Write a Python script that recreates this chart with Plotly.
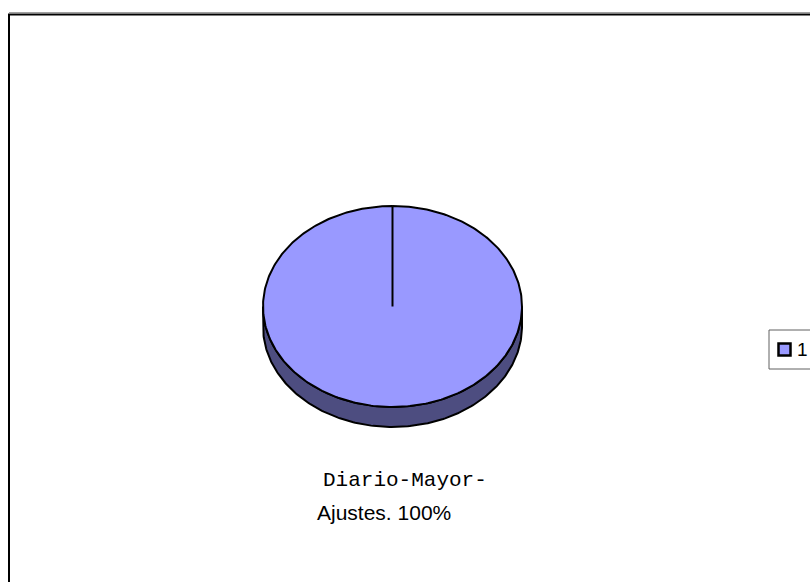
import numpy as np
import plotly.graph_objects as go

# Chart data
categories = ["1"]
values = [100]
series_name = ["Diario-Mayor-", "Ajustes."]

# Pie geometry (in pixel-like axis units, y grows downward)
CX, CY = 392.5, 306.5
RX, RY = 129.5, 100.5
DEPTH = 20
TOP_COLOR = "#9999FF"
SIDE_COLOR = "#4D4D80"

total = float(sum(values))
fractions = [v / total for v in values]


def ellipse_xy(theta, dy=0.0):
    # theta measured clockwise from 12 o'clock
    return CX + RX * np.sin(theta), CY - RY * np.cos(theta) + dy


fig = go.Figure()

# Visible side wall: the front half of the rim (from 3 o'clock to 9 o'clock)
t = np.linspace(np.pi / 2, 3 * np.pi / 2, 200)
x_up, y_up = ellipse_xy(t)
x_dn, y_dn = ellipse_xy(t[::-1], DEPTH)
fig.add_trace(go.Scatter(
    x=np.concatenate([x_up, x_dn, x_up[:1]]),
    y=np.concatenate([y_up, y_dn, y_up[:1]]),
    mode="lines", fill="toself", fillcolor=SIDE_COLOR,
    line=dict(color="black", width=2), showlegend=False, hoverinfo="skip"))

# Top face of each slice
start = 0.0
for cat, frac in zip(categories, fractions):
    a0, a1 = 2 * np.pi * start, 2 * np.pi * (start + frac)
    tt = np.linspace(a0, a1, 400)
    ex, ey = ellipse_xy(tt)
    if frac >= 0.999999:
        px, py = ex, ey
    else:
        px = np.concatenate([[CX], ex, [CX]])
        py = np.concatenate([[CY], ey, [CY]])
    fig.add_trace(go.Scatter(
        x=px, y=py, mode="lines", fill="toself", fillcolor=TOP_COLOR,
        line=dict(color="black", width=2), showlegend=False,
        hoverinfo="skip", name=cat))
    start += frac

# Slice boundary radii
start = 0.0
for frac in fractions:
    bx, by = ellipse_xy(2 * np.pi * start)
    fig.add_trace(go.Scatter(
        x=[CX, bx], y=[CY, by], mode="lines",
        line=dict(color="black", width=2), showlegend=False,
        hoverinfo="skip"))
    start += frac

# Data label: series name and percentage
pct = f"{round(fractions[0] * 100):d}%"
fig.add_annotation(x=405, y=480, xref="x", yref="y", showarrow=False,
                   text=series_name[0],
                   font=dict(family="Liberation Mono", size=21, color="black"))
fig.add_annotation(x=384, y=512, xref="x", yref="y", showarrow=False,
                   text=f"{series_name[1]} {pct}",
                   font=dict(family="Liberation Sans", size=21, color="black"))

# Chart area frame (runs past the right and bottom edges)
fig.add_shape(type="line", xref="paper", yref="paper",
              x0=9 / 810, x1=1.2, y0=1 - 12.5 / 582, y1=1 - 12.5 / 582,
              line=dict(color="#A0A0A0", width=1))
fig.add_shape(type="rect", xref="paper", yref="paper",
              x0=9 / 810, x1=1.2, y0=-0.2, y1=1 - 14.5 / 582,
              line=dict(color="black", width=2))

# Legend box with one entry per category
LEG_X, LEG_Y, LEG_H = 769, 330, 39
fig.add_shape(type="rect", xref="x", yref="y",
              x0=LEG_X, x1=LEG_X + 80, y0=LEG_Y, y1=LEG_Y + LEG_H,
              line=dict(color="#606060", width=1), fillcolor="white")
for i, cat in enumerate(categories):
    ym = LEG_Y + LEG_H / 2 + i * 24
    fig.add_shape(type="rect", xref="x", yref="y",
                  x0=LEG_X + 9.5, x1=LEG_X + 21.5, y0=ym - 6, y1=ym + 6,
                  line=dict(color="black", width=2.5), fillcolor=TOP_COLOR)
    fig.add_annotation(x=LEG_X + 26, y=ym, xref="x", yref="y",
                       xanchor="left", showarrow=False, text=cat,
                       font=dict(family="Liberation Sans", size=19,
                                 color="black"))

fig.update_layout(
    width=810, height=582,
    margin=dict(l=0, r=0, t=0, b=0, autoexpand=False),
    paper_bgcolor="white", plot_bgcolor="white",
    xaxis=dict(range=[0, 810], visible=False, fixedrange=True),
    yaxis=dict(range=[582, 0], visible=False, fixedrange=True),
    showlegend=False,
)

fig.write_html("out.html")
